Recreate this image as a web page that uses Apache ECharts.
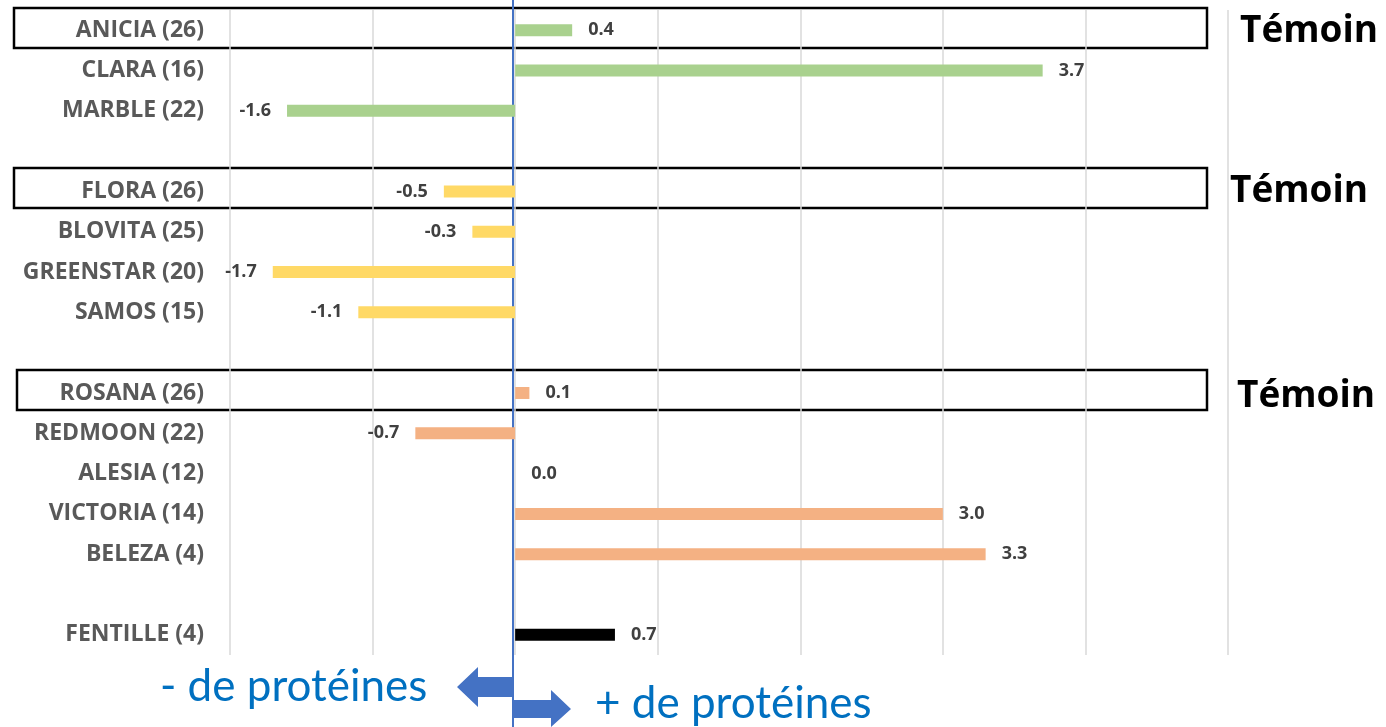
<!DOCTYPE html>
<html>
<head>
<meta charset="utf-8">
<script src="https://cdn.jsdelivr.net/npm/echarts@6/dist/echarts.min.js"></script>
<style>
html, body { margin: 0; padding: 0; background: #fff; }
#chart { width: 1386px; height: 727px; }
</style>
</head>
<body>
<div id="chart"></div>
<script>
// catégories (de haut en bas), lignes vides = séparateurs de groupes
var categories = ['ANICIA (26)', 'CLARA (16)', 'MARBLE (22)', '',
    'FLORA (26)', 'BLOVITA (25)', 'GREENSTAR (20)', 'SAMOS (15)', ' ',
    'ROSANA (26)', 'REDMOON (22)', 'ALESIA (12)', 'VICTORIA (14)', 'BELEZA (4)', '  ',
    'FENTILLE (4)'];
var values = [0.4, 3.7, -1.6, null,
    -0.5, -0.3, -1.7, -1.1, null,
    0.1, -0.7, 0.0, 3.0, 3.3, null,
    0.7];
var groups = ['vert', 'vert', 'vert', null,
    'jaune', 'jaune', 'jaune', 'jaune', null,
    'orange', 'orange', 'orange', 'orange', 'orange', null,
    'noir'];
var groupColors = { vert: '#A9D18E', jaune: '#FFD966', orange: '#F4B183', noir: '#000000' };
var xTicks = [-2, 5, 1];

var font = '"Open Sans", sans-serif';
var bigFont = 'Lato, "Open Sans", sans-serif';
let myChart = echarts.init(document.getElementById('chart'));

var barData = values.map(function (v, i) {
    if (v === null) return null;
    return {
        value: v,
        itemStyle: { color: groupColors[groups[i]] },
        label: { position: v < 0 ? 'left' : 'right' }
    };
});

let option = {
    animation: false,
    grid: { left: 230, right: 158, top: 10, bottom: 72 },
    xAxis: {
        type: 'value',
        min: xTicks[0],
        max: xTicks[1],
        interval: xTicks[2],
        axisLabel: { show: false },
        axisLine: { show: false },
        axisTick: { show: false },
        splitLine: { lineStyle: { color: '#d9d9d9', width: 1.5 } }
    },
    yAxis: {
        type: 'category',
        inverse: true,
        data: categories,
        axisLine: { show: false },
        axisTick: { show: false },
        axisLabel: {
            color: '#595959',
            fontWeight: 'bold',
            fontSize: 23,
            fontFamily: font,
            margin: 26
        }
    },
    series: [{
        type: 'bar',
        data: barData,
        barWidth: 12,
        label: {
            show: true,
            distance: 16,
            color: '#404040',
            fontWeight: 'bold',
            fontSize: 18,
            fontFamily: font,
            formatter: function (p) { return p.value.toFixed(1); }
        }
    }],
    graphic: [
        // cadres "Témoin"
        { type: 'rect', shape: { x: 14, y: 8, width: 1193, height: 40 }, style: { fill: 'none', stroke: '#000', lineWidth: 2.5 } },
        { type: 'rect', shape: { x: 14, y: 168, width: 1193, height: 40 }, style: { fill: 'none', stroke: '#000', lineWidth: 2.5 } },
        { type: 'rect', shape: { x: 17, y: 370, width: 1190, height: 40 }, style: { fill: 'none', stroke: '#000', lineWidth: 2.5 } },
        { type: 'text', x: 1240, y: 31, style: { text: 'Témoin', fill: '#000', font: 'bold 37px ' + font, textVerticalAlign: 'middle' } },
        { type: 'text', x: 1230, y: 191, style: { text: 'Témoin', fill: '#000', font: 'bold 37px ' + font, textVerticalAlign: 'middle' } },
        { type: 'text', x: 1237, y: 396, style: { text: 'Témoin', fill: '#000', font: 'bold 37px ' + font, textVerticalAlign: 'middle' } },
        // axe zéro bleu
        { type: 'line', shape: { x1: 513, y1: 0, x2: 513, y2: 727 }, style: { stroke: '#4472C4', lineWidth: 2 } },
        // flèches
        { type: 'polygon', shape: { points: [[512, 677], [478, 677], [478, 667], [457, 687], [478, 707], [478, 697], [512, 697]] }, style: { fill: '#4472C4' } },
        { type: 'polygon', shape: { points: [[514, 700], [551, 700], [551, 690], [571, 709], [551, 727], [551, 718], [514, 718]] }, style: { fill: '#4472C4' } },
        { type: 'text', x: 160, y: 687, style: { text: '- de protéines', fill: '#0070C0', font: '44px ' + bigFont, textVerticalAlign: 'middle' } },
        { type: 'text', x: 595, y: 704, style: { text: '+ de protéines', fill: '#0070C0', font: '44px ' + bigFont, textVerticalAlign: 'middle' } }
    ]
};
myChart.setOption(option);
</script>
</body>
</html>
